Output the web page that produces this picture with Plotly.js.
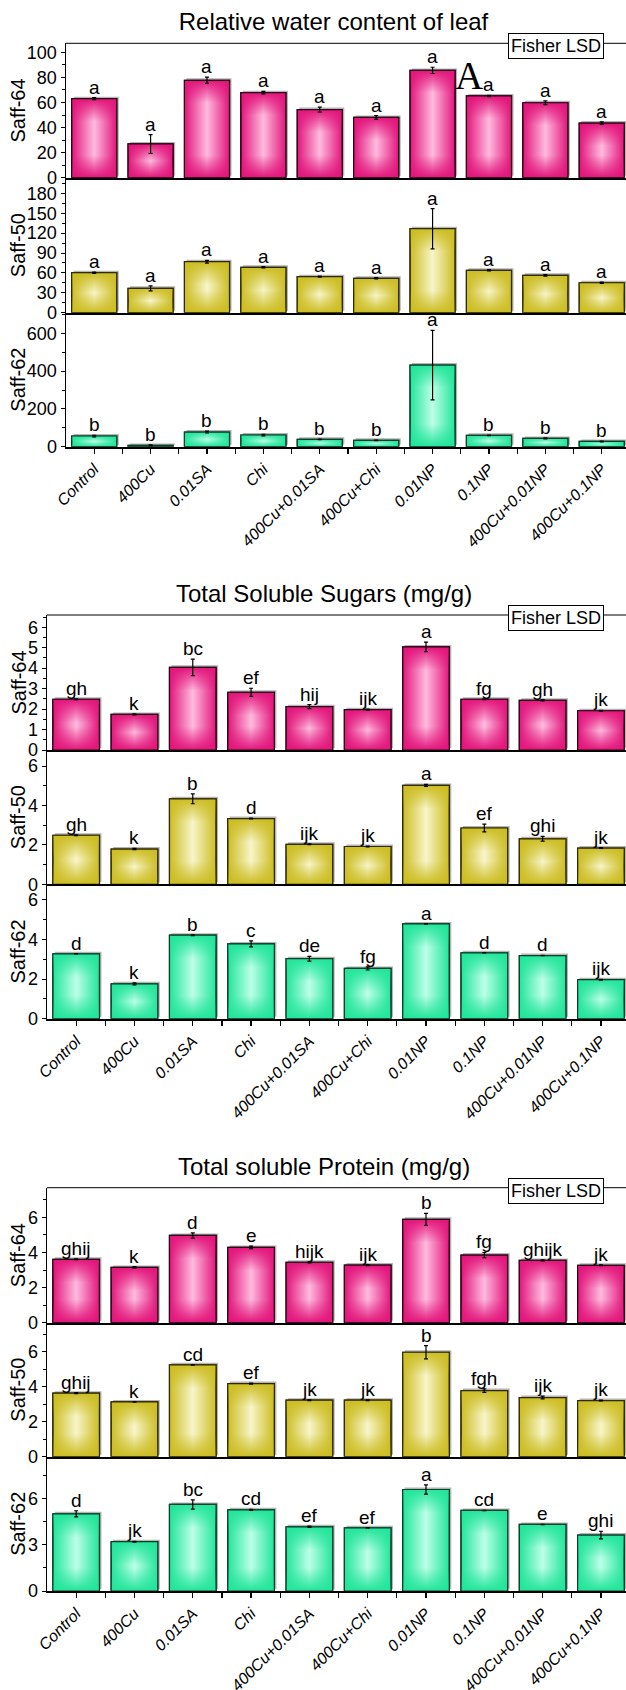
<!DOCTYPE html>
<html>
<head>
<meta charset="utf-8">
<script src="https://cdn.plot.ly/plotly-3.0.1.min.js"></script>
<style>
  html, body { margin: 0; padding: 0; background: #fff; }
  #chart { width: 626px; height: 1690px; }
</style>
</head>
<body>
<svg id="gradSvg" width="0" height="0" style="position:absolute;left:0;top:0"><defs id="gradDefs"></defs></svg>
<div id="chart"></div>
<script>
// ---------------- DATA ----------------
const categories = ['Control','400Cu','0.01SA','Chi','400Cu+0.01SA','400Cu+Chi','0.01NP','0.1NP','400Cu+0.01NP','400Cu+0.1NP'];
const cultivars = ['Saff-64','Saff-50','Saff-62'];
const groupTitles = ['Relative water content of leaf','Total Soluble Sugars (mg/g)','Total soluble Protein (mg/g)'];

// Relative water content of leaf
const rwc64    = [63.0, 26.9, 77.7, 67.8, 54.3, 48.1, 85.6, 65.2, 59.8, 43.6];
const rwc64Err = [0.8, 7.5, 2.5, 1.0, 2.0, 1.5, 2.5, 0.5, 1.5, 1.0];
const rwc64Let = ['a','a','a','a','a','a','a','a','a','a'];
const rwc50    = [60.3, 36.7, 76.9, 68.4, 54.3, 51.8, 126.7, 63.9, 56.3, 45.2];
const rwc50Err = [1.0, 3.8, 2.0, 1.0, 0.8, 1.0, 30.4, 1.0, 1.0, 1.0];
const rwc50Let = ['a','a','a','a','a','a','a','a','a','a'];
const rwc62    = [56.5, 7, 77.6, 61.8, 38.8, 33.5, 432, 60, 44, 28];
const rwc62Err = [4, 3, 5, 4, 2, 2, 184, 2, 3, 2];
const rwc62Let = ['b','b','b','b','b','b','a','b','b','b'];

// Total soluble sugars
const sug64    = [2.48, 1.74, 4.04, 2.82, 2.12, 1.97, 5.04, 2.48, 2.43, 1.92];
const sug64Err = [0.02, 0.03, 0.40, 0.20, 0.10, 0.03, 0.23, 0.02, 0.03, 0.02];
const sug64Let = ['gh','k','bc','ef','hij','ijk','a','fg','gh','jk'];
const sug50    = [2.49, 1.79, 4.34, 3.34, 2.03, 1.92, 5.02, 2.86, 2.31, 1.84];
const sug50Err = [0.02, 0.03, 0.25, 0.02, 0.02, 0.02, 0.05, 0.20, 0.12, 0.02];
const sug50Let = ['gh','k','b','d','ijk','jk','a','ef','ghi','jk'];
const sug62    = [3.28, 1.76, 4.22, 3.78, 3.03, 2.54, 4.79, 3.33, 3.19, 1.97];
const sug62Err = [0.01, 0.05, 0.02, 0.15, 0.12, 0.08, 0.01, 0.01, 0.01, 0.02];
const sug62Let = ['d','k','b','c','de','fg','a','d','d','ijk'];

// Total soluble protein
const pro64    = [3.61, 3.15, 4.97, 4.29, 3.44, 3.28, 5.89, 3.85, 3.55, 3.27];
const pro64Err = [0.02, 0.04, 0.15, 0.07, 0.03, 0.03, 0.34, 0.15, 0.03, 0.02];
const pro64Let = ['ghij','k','d','e','hijk','ijk','b','fg','ghijk','jk'];
const pro50    = [3.63, 3.13, 5.25, 4.18, 3.23, 3.23, 5.97, 3.78, 3.38, 3.21];
const pro50Err = [0.03, 0.01, 0.01, 0.03, 0.02, 0.02, 0.38, 0.10, 0.08, 0.02];
const pro50Let = ['ghij','k','cd','ef','jk','jk','b','fgh','ijk','jk'];
const pro62    = [5.01, 3.20, 5.62, 5.27, 4.17, 4.10, 6.59, 5.23, 4.32, 3.63];
const pro62Err = [0.20, 0.03, 0.30, 0.03, 0.04, 0.02, 0.30, 0.01, 0.01, 0.25];
const pro62Let = ['d','jk','bc','cd','ef','ef','a','cd','e','ghi'];

// ---------------- STYLE / LAYOUT ----------------
const W = 626, H = 1690;
const FONT = 'Liberation Sans, Arial, sans-serif';
const PAL = {
  pink:   {dark: '#e2157b', light: '#ffbadf', line: '#2a0615'},
  yellow: {dark: '#ccbd22', light: '#f8f5c9', line: '#2e2a04'},
  green:  {dark: '#22e59a', light: '#bcffe8', line: '#0a3f2a'}
};
const palOrder = ['pink','yellow','green'];

const panels = [
  // group 1
  {vals: rwc64, errs: rwc64Err, lets: rwc64Let, top: 43.3,  bot: 177.7, left: 66, range: 107.2, dtick: 20,  minor: 10},
  {vals: rwc50, errs: rwc50Err, lets: rwc50Let, top: 177.7, bot: 312.7, left: 66, range: 203.6, dtick: 30,  minor: 15},
  {vals: rwc62, errs: rwc62Err, lets: rwc62Let, top: 312.7, bot: 446.7, left: 66, range: 709,   dtick: 200, minor: 100},
  // group 2
  {vals: sug64, errs: sug64Err, lets: sug64Let, top: 615,   bot: 750,   left: 47, range: 6.6,  dtick: 1, minor: 0.5},
  {vals: sug50, errs: sug50Err, lets: sug50Let, top: 750,   bot: 884.3, left: 47, range: 6.82, dtick: 2, minor: 1},
  {vals: sug62, errs: sug62Err, lets: sug62Let, top: 884.3, bot: 1018.7,left: 47, range: 6.79, dtick: 2, minor: 1},
  // group 3
  {vals: pro64, errs: pro64Err, lets: pro64Let, top: 1187.7, bot: 1322.7, left: 47, range: 7.69, dtick: 2, minor: 1},
  {vals: pro50, errs: pro50Err, lets: pro50Let, top: 1322.7, bot: 1456.7, left: 47, range: 7.66, dtick: 2, minor: 1},
  {vals: pro62, errs: pro62Err, lets: pro62Let, top: 1456.7, bot: 1591,   left: 47, range: 8.72, dtick: 3, minor: 1.5}
];

const titleY = [21.7, 593.3, 1166.7];
const titleX = [333.5, 324, 324];
const lsdY   = [46, 618, 1190.5];

const traces = [];
const layout = {
  width: W, height: H,
  margin: {l: 0, r: 0, t: 0, b: 0},
  paper_bgcolor: '#fff', plot_bgcolor: 'rgba(0,0,0,0)',
  showlegend: false,
  bargap: 0.2,
  font: {family: FONT, color: '#000'},
  title: {text: groupTitles[0], font: {size: 24, family: FONT, color: '#000'},
          x: titleX[0] / W, xanchor: 'center', y: 1 - titleY[0] / H, yanchor: 'middle'},
  annotations: [],
  shapes: []
};

const boundaryVals = categories.map((c, i) => i + 0.5);

panels.forEach((p, k) => {
  const n = k + 1;
  const cult = k % 3;
  const pal = PAL[palOrder[cult]];
  const xa = 'x' + n, ya = 'y' + n;
  traces.push({
    type: 'bar', x: categories, y: p.vals, name: cultivars[cult], meta: palOrder[cult],
    xaxis: xa, yaxis: ya,
    marker: {color: pal.dark, line: {color: pal.line, width: 1.2}},
    error_y: {type: 'data', array: p.errs, visible: true, color: '#000', thickness: 1.2, width: 2},
    hoverinfo: 'x+y'
  });
  const isBottom = (cult === 2);
  const ydom = [1 - p.bot / H, 1 - p.top / H];
  const xaxis = {
    domain: [p.left / W, 1], anchor: ya, type: 'category',
    range: [-0.5, 9.43], showline: true, linecolor: '#000', linewidth: 2,
    showgrid: false, zeroline: false, fixedrange: true,
    ticks: '', showticklabels: false
  };
  if (isBottom) {
    Object.assign(xaxis, {
      ticks: 'outside', ticklen: 5, tickwidth: 1.2, tickcolor: '#000',
      showticklabels: true, tickmode: 'array',
      tickvals: categories.map((c, i) => i).concat(boundaryVals),
      ticktext: categories.concat(boundaryVals.map(() => '')),
      tickangle: -45,
      tickfont: {size: 16, style: 'italic', family: FONT, color: '#000'}
    });
  }
  layout['xaxis' + n] = xaxis;
  layout['yaxis' + n] = {
    domain: ydom, anchor: xa, range: [0, p.range], tick0: 0, dtick: p.dtick,
    ticks: 'outside', ticklen: 4, tickwidth: 1, tickcolor: '#000',
    showline: true, linecolor: '#000', linewidth: 1.5,
    showgrid: false, zeroline: false, fixedrange: true,
    tickfont: {size: 18, family: FONT, color: '#000'},
    minor: {ticks: 'outside', ticklen: 2.5, dtick: p.minor, tick0: 0, tickcolor: '#000', tickwidth: 1}
  };
  // y-axis title (cultivar) as rotated text beside the panel
  layout.annotations.push({
    xref: 'paper', yref: 'paper', x: 18 / W, y: 1 - ((p.top + p.bot) / 2) / H,
    xanchor: 'center', yanchor: 'middle', showarrow: false, textangle: -90,
    text: cultivars[cult], font: {size: 20, family: FONT, color: '#000'}
  });
  // significance letters
  p.vals.forEach((v, i) => {
    layout.annotations.push({
      xref: xa, yref: ya, x: categories[i], y: v + p.errs[i],
      text: p.lets[i], showarrow: false, yanchor: 'bottom', yshift: -2,
      font: {size: 19, family: FONT, color: '#000'}
    });
  });
});

// group titles (2 and 3), Fisher LSD boxes, top frame lines
[1, 2].forEach(g => {
  layout.annotations.push({
    xref: 'paper', yref: 'paper', x: titleX[g] / W, y: 1 - titleY[g] / H,
    xanchor: 'center', yanchor: 'middle', showarrow: false,
    text: groupTitles[g], font: {size: 24, family: FONT, color: '#000'}
  });
});
[0, 1, 2].forEach(g => {
  const top = panels[g * 3];
  layout.shapes.push({
    type: 'line', xref: 'paper', yref: 'paper',
    x0: top.left / W, x1: 1, y0: 1 - top.top / H, y1: 1 - top.top / H,
    line: {color: '#000', width: 1}
  });
  layout.annotations.push({
    xref: 'paper', yref: 'paper', x: 556 / W, y: 1 - lsdY[g] / H,
    xanchor: 'center', yanchor: 'middle', showarrow: false,
    text: 'Fisher LSD', font: {size: 18, family: FONT, color: '#000'},
    bgcolor: '#fff', bordercolor: '#000', borderwidth: 1, borderpad: 2
  });
});
// panel label "A"
layout.annotations.push({
  xref: 'paper', yref: 'paper', x: 469 / W, y: 1 - 76 / H,
  xanchor: 'center', yanchor: 'middle', showarrow: false,
  text: 'A', font: {size: 39, family: 'Liberation Serif, Times New Roman, serif', color: '#000'}
});

// ---------------- GRADIENT DECORATION ----------------
function decorate(gd) {
  const NS = 'http://www.w3.org/2000/svg';
  const defs = document.getElementById('gradDefs');
  while (defs.firstChild) defs.removeChild(defs.firstChild);
  function grad(id, x2, y2, stops) {
    const lg = document.createElementNS(NS, 'linearGradient');
    lg.setAttribute('id', id);
    lg.setAttribute('x1', 0); lg.setAttribute('y1', 0);
    lg.setAttribute('x2', x2); lg.setAttribute('y2', y2);
    stops.forEach(s => {
      const st = document.createElementNS(NS, 'stop');
      st.setAttribute('offset', s[0]);
      st.setAttribute('stop-color', s[1]);
      st.setAttribute('stop-opacity', s[2]);
      lg.appendChild(st);
    });
    defs.appendChild(lg);
  }
  Object.keys(PAL).forEach(k => {
    const c = PAL[k];
    grad('h_' + k, 1, 0, [[0, c.dark, 1], [0.5, c.light, 1], [1, c.dark, 1]]);
  });
  let uid = 0;
  gd.querySelectorAll('.barlayer .trace').forEach(tr => {
    const d = tr.__data__;
    const trace = d && d[0] && d[0].trace;
    if (!trace) return;
    const key = trace.meta;
    const c = PAL[key];
    tr.querySelectorAll('.point path').forEach(p => {
      const bb = p.getBBox();
      if (!(bb.width > 0 && bb.height > 0)) return;
      const sh = p.cloneNode(false);
      sh.setAttribute('transform', 'translate(2,-2)');
      sh.style.fill = '#b4b4b4';
      sh.style.stroke = 'none';
      p.parentNode.insertBefore(sh, p);
      p.style.fill = 'url(#h_' + key + ')';
      const id = 'v_' + (uid++);
      const f = Math.min(0.5, (bb.width / 2) / bb.height);
      grad(id, 0, 1, [[0, c.dark, 1], [f, c.dark, 0], [1 - f, c.dark, 0], [1, c.dark, 1]]);
      const ov = p.cloneNode(false);
      ov.style.fill = 'url(#' + id + ')';
      p.parentNode.insertBefore(ov, p.nextSibling);
    });
  });
}

const gd = document.getElementById('chart');
Plotly.newPlot(gd, traces, layout, {staticPlot: true, displayModeBar: false}).then(() => decorate(gd));
</script>
</body>
</html>
